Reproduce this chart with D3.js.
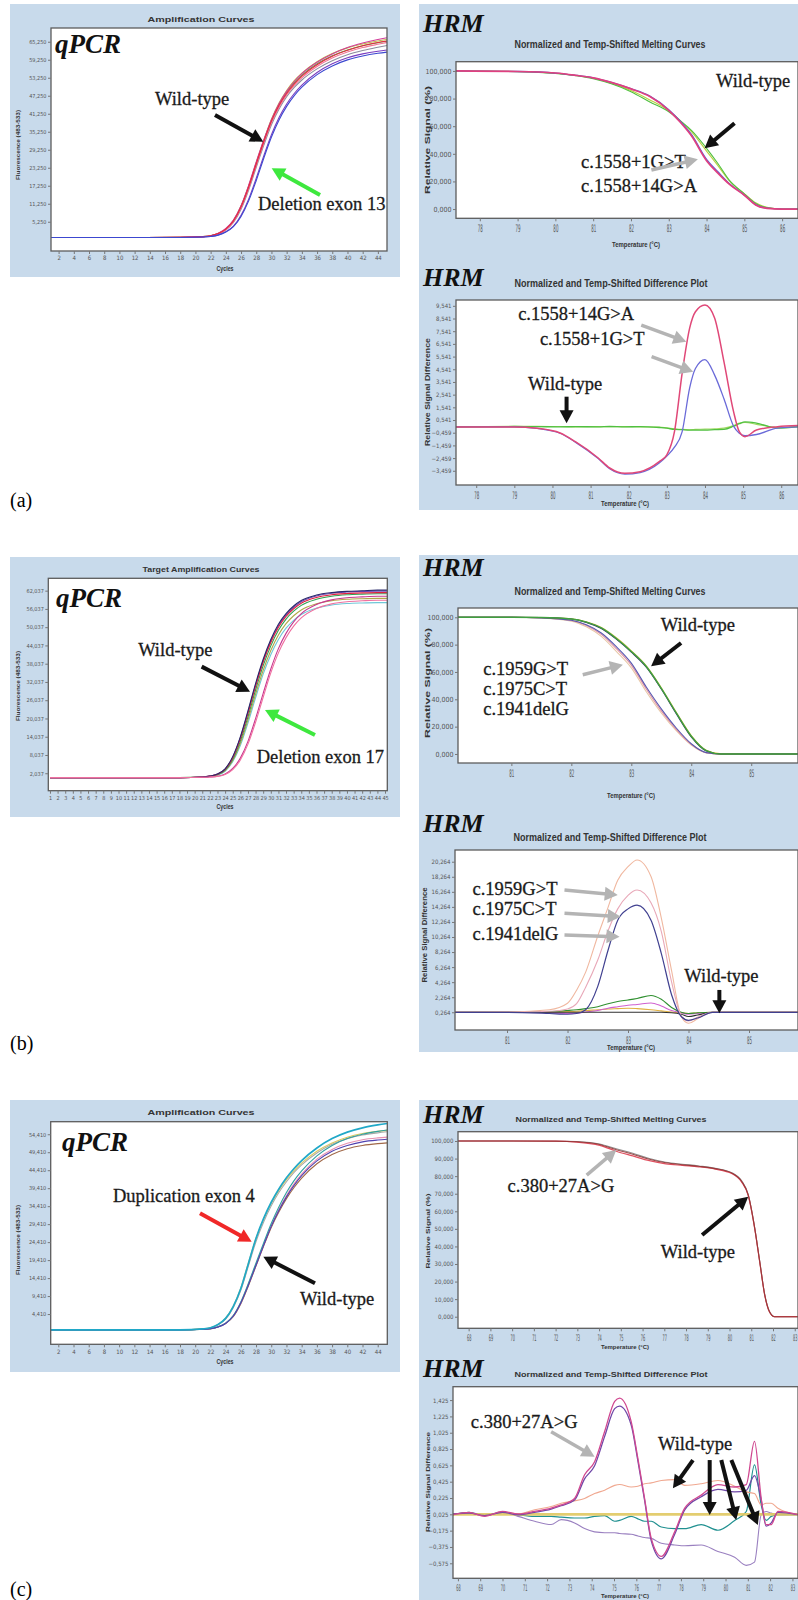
<!DOCTYPE html>
<html>
<head>
<meta charset="utf-8">
<script src="https://cdnjs.cloudflare.com/ajax/libs/d3/7.8.5/d3.min.js"></script>
<style>
body { margin: 0; background: #fff; }
.note { font-family: "Liberation Serif", "Times New Roman", serif; font-size: 18.5px; fill: #1a1a1a; stroke: #1a1a1a; stroke-width: 0.3px; }
.big { font-family: "Liberation Serif", "Times New Roman", serif; font-style: italic; font-weight: bold; fill: #111; }
.ttl { font-family: "Liberation Sans", Arial, sans-serif; font-weight: bold; fill: #333; }
</style>
</head>
<body>
<svg id="fig" width="798" height="1600"></svg>
<script>

/////// qPCR (a) : amplification curves, values in thousands ///////

var qa_cycles = [1, 10, 18, 21, 22, 23, 24, 25, 26, 27, 28, 29, 30, 31, 32, 33, 34, 36, 38, 40, 42, 44, 45.2];
var qa_wt1 = [0, 0, 0.05, 0.3, 0.6, 1.3, 2.8, 5.5, 10.2, 16.8, 24.5, 32, 38.8, 44, 48, 51.2, 53.8, 57.6, 60.4, 62.4, 63.9, 65, 65.5];
var qa_wt2 = [0, 0, 0.05, 0.3, 0.6, 1.4, 3.0, 5.8, 10.6, 17.4, 25.2, 32.6, 39.3, 44.6, 48.7, 52, 54.6, 58.4, 61.2, 63.3, 64.8, 66, 66.6];
var qa_wt3 = [0, 0, 0.05, 0.3, 0.6, 1.3, 2.9, 5.7, 10.5, 17.2, 25, 32.5, 39.4, 44.8, 49, 52.3, 54.8, 58.6, 61.3, 63.2, 64.5, 65.5, 66];
var qa_wt4 = [0, 0, 0.05, 0.3, 0.5, 1.2, 2.6, 5.2, 9.8, 16.3, 24, 31.5, 38.2, 43.4, 47.5, 50.7, 53.2, 57, 59.8, 61.8, 63.3, 64.4, 65];
var qa_wt5 = [0, 0, 0.05, 0.25, 0.5, 1.1, 2.5, 5, 9.4, 15.8, 23.4, 30.8, 37.6, 42.8, 46.9, 50, 52.5, 56.2, 58.9, 60.9, 62.3, 63.4, 64];
var qa_wt6 = [0, 0, 0.05, 0.3, 0.6, 1.3, 2.8, 5.6, 10.4, 17, 24.8, 32.3, 39, 44.3, 48.4, 51.6, 54.1, 57.9, 60.6, 62.5, 63.9, 64.9, 65.4];
var qa_del1 = [0, 0, 0, 0.15, 0.35, 0.8, 1.8, 3.6, 7, 12.2, 19, 26.5, 33.5, 39.2, 43.7, 47.3, 50.1, 54.3, 57.2, 59.2, 60.5, 61.4, 61.8];
var qa_del2 = [0, 0, 0, 0.15, 0.35, 0.8, 1.9, 3.8, 7.4, 12.8, 19.8, 27.3, 34.3, 40, 44.5, 48, 50.8, 55, 57.9, 59.9, 61.2, 62.1, 62.5];
var qa_yticks = [5.25, 11.25, 17.25, 23.25, 29.25, 35.25, 41.25, 47.25, 53.25, 59.25, 65.25];
var qa_xticks = d3.range(2, 45, 2);

/////// qPCR (b) ///////

var qb_cycles = [1, 10, 18, 21, 22, 23, 24, 25, 26, 27, 28, 29, 30, 31, 32, 33, 34, 36, 38, 40, 42, 44, 45.3];
var qb_wt1 = [0.6, 0.6, 0.6, 0.8, 1.1, 1.8, 3.5, 7.5, 14, 22.5, 31.5, 39.5, 46, 51, 54.5, 57, 58.8, 60.6, 61.4, 61.8, 62, 62.2, 62.2];
var qb_wt2 = [0.6, 0.6, 0.6, 0.8, 1.1, 1.7, 3.3, 7.1, 13.4, 21.7, 30.6, 38.6, 45, 50, 53.6, 56.1, 57.9, 59.8, 60.7, 61.1, 61.3, 61.4, 61.4];
var qb_wt3 = [0.6, 0.6, 0.6, 0.8, 1.0, 1.6, 3.1, 6.6, 12.6, 20.6, 29.4, 37.4, 43.9, 49, 52.7, 55.3, 57.2, 59.2, 60.2, 60.7, 60.9, 61, 61];
var qb_wt4 = [0.6, 0.6, 0.6, 0.8, 1.1, 1.8, 3.4, 7.3, 13.7, 22.1, 31, 39, 45.5, 50.5, 54.1, 56.6, 58.4, 60.3, 61.2, 61.6, 61.8, 61.9, 61.9];
var qb_wt5 = [0.6, 0.6, 0.6, 0.75, 1.0, 1.5, 2.9, 6.2, 11.8, 19.5, 28, 35.9, 42.4, 47.5, 51.2, 53.8, 55.7, 57.7, 58.7, 59.2, 59.4, 59.5, 59.5];
var qb_wt6 = [0.6, 0.6, 0.6, 0.75, 0.95, 1.4, 2.7, 5.8, 11.1, 18.5, 26.8, 34.6, 41, 46, 49.7, 52.3, 54.2, 56.3, 57.3, 57.8, 58, 58.1, 58.1];
var qb_del1 = [0.6, 0.6, 0.6, 0.7, 0.8, 1.0, 1.6, 3.2, 6.4, 11.6, 18.8, 27, 35, 41.6, 46.6, 50.4, 53.1, 56.2, 57.7, 58.4, 58.7, 58.9, 58.9];
var qb_del2 = [0.6, 0.6, 0.6, 0.7, 0.8, 1.05, 1.8, 3.6, 7, 12.5, 20, 28.3, 36.3, 43, 48, 51.8, 54.5, 57.5, 59, 59.7, 60, 60.2, 60.2];
var qb_yticks = [2.037, 8.037, 14.037, 20.037, 26.037, 32.037, 38.037, 44.037, 50.037, 56.037, 62.037];
var qb_xticks = d3.range(1, 46, 1);

/////// qPCR (c) ///////

var qc_cycles = [1, 10, 18, 21, 22, 23, 24, 25, 26, 27, 28, 29, 30, 31, 32, 33, 34, 36, 38, 40, 42, 44, 45.26];
var qc_dup1 = [0, 0, 0, 0.3, 0.6, 1.5, 3.2, 6.5, 11.5, 18.5, 25.5, 31, 35.5, 39.2, 42.3, 44.9, 47.1, 50.6, 53.2, 55, 56.2, 57, 57.4];
var qc_dup2 = [0, 0, 0, 0.3, 0.6, 1.5, 3.3, 6.6, 11.7, 18.7, 25.5, 30.8, 35.2, 38.8, 41.8, 44.3, 46.4, 49.7, 52, 53.6, 54.6, 55.2, 55.5];
var qc_dup3 = [0, 0, 0, 0.3, 0.55, 1.4, 3.0, 6.2, 11, 17.8, 24.6, 30, 34.5, 38.2, 41.2, 43.8, 45.9, 49.2, 51.6, 53.2, 54.2, 54.8, 55.1];
var qc_wt1 = [0, 0, 0, 0.2, 0.35, 0.8, 1.8, 3.8, 7.5, 12.5, 18, 23.5, 28.8, 33.2, 37, 40.2, 42.9, 47, 49.7, 51.3, 52.3, 52.8, 53];
var qc_wt2 = [0, 0, 0, 0.2, 0.35, 0.85, 1.9, 4, 7.8, 13, 18.6, 24.2, 29.6, 34.2, 38.2, 41.5, 44.2, 48.4, 51.3, 53.2, 54.4, 55.2, 55.6];
var qc_wt3 = [0, 0, 0, 0.2, 0.3, 0.8, 1.8, 3.7, 7.3, 12.3, 17.8, 23.3, 28.5, 32.8, 36.5, 39.6, 42.2, 46.2, 48.8, 50.4, 51.3, 51.8, 52];
var qc_wt4 = [0, 0, 0, 0.2, 0.35, 0.85, 1.9, 3.9, 7.7, 12.8, 18.3, 23.8, 29, 33.5, 37.4, 40.6, 43.3, 47.5, 50.2, 51.9, 52.9, 53.4, 53.6];
var qc_yticks = [4.41, 9.41, 14.41, 19.41, 24.41, 29.41, 34.41, 39.41, 44.41, 49.41, 54.41];
var qc_xticks = d3.range(2, 45, 2);

/////// HRM (a) melting curves and difference plot ///////

var ma_temp = [77.37, 79, 80, 80.5, 81, 81.5, 82, 82.5, 83, 83.3, 83.6, 84, 84.3, 84.6, 85, 85.3, 85.6, 86, 86.42];
var ma_pink = [100, 99.6, 98.5, 97, 95, 91.5, 87, 81.5, 71.5, 63, 53, 35, 26, 18, 10, 3, 0.5, 0, 0];
var ma_blue = [100, 99.6, 98.5, 97, 95, 91.6, 87.2, 81.8, 72, 63.8, 54, 36, 27, 18.5, 10.2, 3.2, 0.6, 0, 0];
var ma_green = [100, 99.5, 98.2, 96.7, 94.4, 90.5, 85, 77.5, 70.5, 64, 57, 44, 33, 21, 11, 4, 1, 0, 0];
var ma_lime = [100, 99.6, 98.3, 96.9, 94.7, 91, 85.8, 79, 71.2, 64.2, 56, 42, 31.5, 20.5, 11.2, 4.5, 1.2, 0, 0];
var ma_yticks = [0, 20, 40, 60, 80, 100];
var ma_xticks = d3.range(78, 87);

var da_temp = [77.47, 79, 79.6, 80.2, 80.6, 81.2, 81.5, 81.9, 82.3, 82.8, 83, 83.2, 83.4, 83.6, 83.75, 84, 84.25, 84.5, 84.75, 84.9, 85.05, 85.35, 85.9, 86.44];
var da_pink = [0, 0, -0.11, -0.48, -1.17, -2.45, -3.24, -3.66, -3.53, -2.74, -2.2, -0.38, 4.2, 7.8, 9.07, 9.6, 8.6, 5.1, 1.2, -0.38, -0.77, -0.25, 0.01, 0.1];
var da_blue = [0, 0, -0.12, -0.5, -1.2, -2.5, -3.3, -3.72, -3.6, -2.85, -2.3, -1.6, -0.4, 3.1, 4.6, 5.3, 4.1, 2.2, 0.06, -0.5, -0.7, -0.6, -0.1, 0];
var da_green = [0, 0.03, 0.02, 0, 0.02, 0, 0.03, 0, 0.02, -0.05, -0.1, -0.2, -0.22, -0.25, -0.25, -0.25, -0.22, -0.2, 0.05, 0.25, 0.4, 0.3, -0.1, 0];
var da_lime = [0, 0.05, 0.04, 0.03, 0, 0.02, 0.01, 0.02, 0, -0.02, -0.08, -0.15, -0.2, -0.22, -0.2, -0.18, -0.15, -0.1, 0.1, 0.3, 0.35, 0.2, -0.05, 0.05];
var da_yticks = [-3.459, -2.459, -1.459, -0.459, 0.541, 1.541, 2.541, 3.541, 4.541, 5.541, 6.541, 7.541, 8.541, 9.541];

/////// HRM (b) ///////

var mb_temp = [80.11, 81, 81.5, 82, 82.25, 82.5, 82.75, 83, 83.25, 83.5, 83.75, 84, 84.25, 84.5, 85, 85.78];
var mb_green = [100, 100, 99.8, 98.8, 96.5, 92.2, 84.5, 75, 64, 48, 30, 13, 2.5, 0, 0, 0];
var mb_navy = [100, 100, 99.8, 98.7, 96.3, 91.8, 84, 74.5, 63.5, 47.5, 29.5, 12.5, 2.2, 0, 0, 0];
var mb_yellow = [100, 100, 99.8, 98.9, 96.7, 92.5, 85, 75.5, 64.5, 48.5, 30.5, 13.5, 2.8, 0.1, 0, 0];
var mb_blue = [100, 100, 99.6, 97.8, 94.5, 88.5, 78.5, 66.5, 49, 33, 19, 7.5, 1, 0, 0, 0];
var mb_pink = [100, 100, 99.5, 97.6, 94, 87.5, 77, 65, 47.5, 31.5, 18, 7, 0.9, 0, 0, 0];
var mb_beige = [100, 100, 99.4, 97.2, 93, 86, 75, 63, 45.5, 30, 17, 6.5, 0.8, 0, 0, 0];
var mb_yticks = [0, 20, 40, 60, 80, 100];
var mb_xticks = [81, 82, 83, 84, 85];

var db_temp = [80.14, 81, 81.7, 82, 82.15, 82.3, 82.5, 82.67, 82.83, 83, 83.15, 83.38, 83.55, 83.72, 83.88, 84, 84.15, 84.4, 85, 85.81];
var db_salmon = [0.26, 0.3, 0.6, 1.46, 3.2, 5.6, 10.4, 14.2, 17.8, 19.6, 20.5, 18.3, 12.8, 5.8, -0.3, -1.2, -0.6, 0.26, 0.26, 0.26];
var db_pink = [0.26, 0.26, 0.4, 0.7, 1.4, 3.6, 7.2, 11.1, 14, 15.8, 16.5, 14.8, 11, 4.3, -0.2, -0.9, -0.4, 0.26, 0.26, 0.26];
var db_blue = [0.26, 0.26, 0.1, 0, 0.1, 0.6, 3.7, 8.5, 12.5, 14, 14.5, 12.5, 8.1, 2.6, -0.3, -0.8, -0.5, 0.26, 0.26, 0.26];
var db_green = [0.26, 0.26, 0.35, 0.5, 0.6, 0.75, 1.0, 1.4, 1.7, 1.9, 2.1, 2.5, 2.0, 0.9, 0.26, 0.1, 0.2, 0.26, 0.26, 0.26];
var db_magenta = [0.26, 0.26, 0.2, 0.1, 0.15, 0.3, 0.5, 0.8, 1.0, 1.2, 1.3, 1.5, 1.1, 0.5, 0.2, 0, 0.1, 0.26, 0.26, 0.26];
var db_yellow = [0.26, 0.26, 0.3, 0.35, 0.4, 0.5, 0.6, 0.7, 0.75, 0.8, 0.75, 0.6, 0.45, 0.3, 0.2, 0.1, 0.2, 0.26, 0.26, 0.26];
var db_dark = [0.26, 0.26, 0.26, 0.26, 0.26, 0.26, 0.26, 0.26, 0.26, 0.26, 0.26, 0.26, 0.26, 0.2, 0, -0.3, -0.1, 0.26, 0.26, 0.26];
var db_yticks = [0.264, 2.264, 4.264, 6.264, 8.264, 10.264, 12.264, 14.264, 16.264, 18.264, 20.264];

/////// HRM (c) ///////

var mc_temp = [67.51, 70, 72, 72.97, 74.03, 74.79, 75.55, 76.31, 77.07, 77.83, 78.58, 79.34, 80.1, 80.56, 80.86, 81.16, 81.39, 81.62, 81.84, 82.07, 83.15];
var mc_dark = [100, 100, 99.9, 99.6, 98, 95, 92.5, 89.6, 87.6, 86.5, 85.6, 84.3, 81.8, 77, 69.3, 50.3, 31.3, 12.4, 2.8, 0, 0];
var mc_pink = [100, 100, 99.9, 99.4, 97.5, 94.2, 91.5, 88.8, 87, 86.1, 85.3, 84, 81.5, 76.6, 69, 50, 31, 12.2, 2.7, 0, 0];
var mc_gray = [100, 100, 100, 99.7, 98.3, 95.6, 93, 90, 87.9, 86.8, 85.8, 84.5, 82, 77.3, 69.6, 50.6, 31.6, 12.6, 2.9, 0, 0];
var mc_yticks = [0, 10, 20, 30, 40, 50, 60, 70, 80, 90, 100];
var mc_xticks = d3.range(68, 84);

var dc_temp = [67.78, 68.5, 69.2, 70, 70.7, 71.44, 72.18, 72.63, 73.23, 73.68, 74.13, 74.58, 75.03, 75.25, 75.77, 76.07, 76.37, 76.67, 77.12, 77.72, 78.17, 78.91, 79.66, 80.41, 80.93, 81.3, 81.6, 81.82, 82.05, 82.35, 83.24];
var dc_pink = [0.02, 0.05, 0.0, 0.06, 0.03, 0.06, 0.1, 0.14, 0.22, 0.51, 0.67, 1.04, 1.41, 1.45, 1.16, 0.71, 0.22, -0.27, -0.49, -0.19, 0.1, 0.26, 0.39, 0.36, 0.39, 0.92, 0.22, -0.1, -0.1, 0.06, 0.02];
var dc_purple = [0.03, 0.04, 0.01, 0.05, 0.02, 0.05, 0.09, 0.13, 0.2, 0.46, 0.62, 0.98, 1.32, 1.35, 1.12, 0.68, 0.2, -0.3, -0.52, -0.22, 0.08, 0.24, 0.33, 0.3, 0.32, 0.5, 0.2, -0.12, -0.08, 0.05, 0.02];
var dc_salmon = [0.02, 0.04, 0.01, 0.05, 0.03, 0.08, 0.12, 0.16, 0.19, 0.22, 0.28, 0.32, 0.38, 0.39, 0.36, 0.37, 0.4, 0.41, 0.44, 0.45, 0.38, 0.4, 0.44, 0.37, 0.3, 0.28, 0.14, 0.16, 0.16, 0.1, 0.02];
var dc_teal = [0.02, 0.05, 0.01, 0.05, 0.02, 0.0, 0.0, -0.01, -0.02, -0.02, 0.0, 0.01, -0.06, -0.05, 0.0, -0.03, -0.06, -0.06, -0.13, -0.15, -0.15, -0.1, -0.17, -0.05, 0.06, 0.63, 0.14, -0.05, 0.0, 0.02, 0.02];
var dc_lav = [0.02, 0.04, 0.02, 0.05, 0.0, -0.06, -0.1, -0.04, -0.08, -0.15, -0.19, -0.2, -0.2, -0.21, -0.22, -0.24, -0.26, -0.27, -0.33, -0.35, -0.36, -0.35, -0.43, -0.5, -0.6, -0.56, 0.02, 0.06, 0.04, 0.02, 0.02];
var dc_ref_temp = [67.78, 83.47];
var dc_ref = [0.025, 0.025];
var dc_yticks = [-0.575, -0.375, -0.175, 0.025, 0.225, 0.425, 0.625, 0.825, 1.025, 1.225, 1.425];


/////// Helpers ///////

var svg = d3.select("#fig");
var NARROW = "'Liberation Sans Narrow', 'DejaVu Sans Condensed', 'Arial Narrow', sans-serif";
var BLUE_BG = "#c8daeb";
var GREY_ARROW = "#b4b4b4";
var clipN = 0;

function fmt3(d) { return d3.format(".3f")(d).replace(".", ","); }

function box(x, y, w, h) {
    svg.append("rect").attr("x", x).attr("y", y).attr("width", w).attr("height", h).attr("fill", BLUE_BG);
}

function txt(x, y, s, cls, size, len, rot) {
    var t = svg.append("text").attr("class", cls).attr("font-size", size).text(s);
    if (rot) {
        t.attr("transform", "translate(" + x + "," + y + ") rotate(-90)").attr("text-anchor", "middle");
    } else {
        t.attr("x", x).attr("y", y);
        if (len) t.attr("text-anchor", "middle");
    }
    if (len) t.attr("textLength", len).attr("lengthAdjust", "spacingAndGlyphs");
    return t;
}

function arrow(x1, y1, x2, y2, col, w) {
    var dx = x2 - x1, dy = y2 - y1, len = Math.sqrt(dx * dx + dy * dy);
    var ux = dx / len, uy = dy / len, hl = 13, hw = 7;
    var bx = x2 - ux * hl, by = y2 - uy * hl;
    svg.append("line").attr("x1", x1).attr("y1", y1).attr("x2", bx + ux * 2).attr("y2", by + uy * 2)
        .attr("stroke", col).attr("stroke-width", w || 4);
    svg.append("path")
        .attr("d", "M" + x2 + "," + y2 + "L" + (bx - uy * hw) + "," + (by + ux * hw) + "L" + (bx + uy * hw) + "," + (by - ux * hw) + "Z")
        .attr("fill", col);
}

function plot(p) {
    var x = d3.scaleLinear().domain(p.xdom).range([p.l, p.r]);
    var y = d3.scaleLinear().domain(p.ydom).range([p.b, p.t]);
    var id = "clip" + (clipN++);

    svg.append("clipPath").attr("id", id).append("rect")
        .attr("x", p.l).attr("y", p.t).attr("width", p.r - p.l).attr("height", p.b - p.t);
    svg.append("rect").attr("x", p.l).attr("y", p.t).attr("width", p.r - p.l).attr("height", p.b - p.t)
        .attr("fill", "#fff");

    var line = d3.line().curve(d3.curveMonotoneX)
        .x(function (d) { return x(d[0]); })
        .y(function (d) { return y(d[1]); });

    var lines = svg.append("g").attr("clip-path", "url(#" + id + ")");
    p.series.forEach(function (s) {
        lines.append("path")
            .datum(d3.zip(s.xs || p.xs, s.ys))
            .attr("d", line)
            .attr("fill", "none")
            .attr("stroke", s.c)
            .attr("stroke-width", s.w || 1.1)
            .attr("stroke-opacity", s.o || 1);
    });

    svg.append("rect").attr("x", p.l).attr("y", p.t).attr("width", p.r - p.l).attr("height", p.b - p.t)
        .attr("fill", "none").attr("stroke", "#5c5c5c").attr("stroke-width", 1.3);

    // axes
    var ya = svg.append("g").attr("transform", "translate(" + p.l + ",0)")
        .call(d3.axisLeft(y).tickValues(p.yticks).tickFormat(fmt3).tickSize(3).tickPadding(1.5));
    ya.select(".domain").remove();
    ya.selectAll("line").attr("stroke", "#777");
    ya.selectAll("text").attr("font-size", p.yfs).attr("font-family", NARROW).attr("fill", "#555");

    var xa = svg.append("g").attr("transform", "translate(0," + p.b + ")")
        .call(d3.axisBottom(x).tickValues(p.xticks).tickFormat(d3.format("d")).tickSize(3).tickPadding(2));
    xa.select(".domain").remove();
    xa.selectAll("line").attr("stroke", "#777");
    xa.selectAll("text").attr("font-size", p.xfs).attr("font-family", NARROW).attr("fill", "#555");
    if (p.squeeze) xa.selectAll("text").attr("transform", "scale(0.55,1.3)");

    // annotations
    (p.notes || []).forEach(function (n) {
        svg.append("text").attr("class", "note").attr("x", x(n[0])).attr("y", y(n[1])).text(n[2]);
    });
    (p.arrows || []).forEach(function (a) {
        arrow(x(a[0]), y(a[1]), x(a[2]), y(a[3]), a[4], a[5]);
    });
}


/////// Backgrounds ///////

box(10, 4, 390, 273);
box(10, 557, 390, 260);
box(10, 1100, 390, 272);
box(419, 4, 379, 506);
box(419, 555, 379, 497);
box(419, 1100, 379, 500);


/////// qPCR panels ///////

plot({
    l: 51, r: 387, t: 28, b: 251, xdom: [1, 45.2], ydom: [-4.5, 69.83],
    xs: qa_cycles, yticks: qa_yticks, xticks: qa_xticks, yfs: 5.5, xfs: 6,
    series: [
        {ys: qa_wt5, c: "#8c8c9c"}, {ys: qa_wt3, c: "#c0b848"}, {ys: qa_wt6, c: "#58b058"},
        {ys: qa_wt4, c: "#f07898"}, {ys: qa_wt2, c: "#d23c9a"}, {ys: qa_wt1, c: "#e8283c"},
        {ys: qa_del2, c: "#7a3cc0"}, {ys: qa_del1, c: "#3c48d0"}
    ],
    notes: [[14.68, 44.17, "Wild-type"], [28.23, 9.17, "Deletion exon 13"]],
    arrows: [[22.57, 40.83, 28.93, 31.93, "#111"], [36.39, 14.17, 30.03, 23.07, "#3ee83e"]]
});
txt(201, 22, "Amplification Curves", "ttl", 8, 107);
txt(225, 270.5, "Cycles", "ttl", 6.5, 17);
txt(20, 145, "Fluorescence (483-533)", "ttl", 5.5, 70, true);
txt(55, 53, "qPCR", "big", 27);

plot({
    l: 48.3, r: 387.3, t: 578.3, b: 790.7, xdom: [0.78, 45.3], ydom: [-3.7, 66.1],
    xs: qb_cycles, yticks: qb_yticks, xticks: qb_xticks, yfs: 5.5, xfs: 5.5,
    series: [
        {ys: qb_wt6, c: "#70c8d8"}, {ys: qb_wt5, c: "#b0a848"}, {ys: qb_wt3, c: "#30a050"},
        {ys: qb_wt4, c: "#7048b8"}, {ys: qb_wt2, c: "#e02040"}, {ys: qb_wt1, c: "#2a2a6a"},
        {ys: qb_del2, c: "#c83890"}, {ys: qb_del1, c: "#f070a0"}
    ],
    notes: [[12.58, 40.58, "Wild-type"], [28.15, 5.32, "Deletion exon 17"]],
    arrows: [[20.92, 37.07, 27.27, 28.85, "#111"], [35.8, 14.62, 29.24, 22.84, "#3ee83e"]]
});
txt(201, 572, "Target Amplification Curves", "ttl", 8, 117);
txt(225, 809, "Cycles", "ttl", 6.5, 17);
txt(20, 686, "Fluorescence (483-533)", "ttl", 5.5, 70, true);
txt(56, 607, "qPCR", "big", 27);

plot({
    l: 50.7, r: 387.3, t: 1121.7, b: 1344.3, xdom: [1, 45.26], ydom: [-4.0, 57.9],
    xs: qc_cycles, yticks: qc_yticks, xticks: qc_xticks, yfs: 5.5, xfs: 6,
    series: [
        {ys: qc_wt3, c: "#a06848"}, {ys: qc_wt4, c: "#e890b0"}, {ys: qc_dup3, c: "#a8a8a8"},
        {ys: qc_dup2, c: "#d8c860"}, {ys: qc_wt2, c: "#30a0a0"}, {ys: qc_wt1, c: "#5040b0"},
        {ys: qc_dup1, c: "#20a8c8", w: 1.7}
    ],
    notes: [[9.19, 35.66, "Duplication exon 4"], [33.78, 6.91, "Wild-type"]],
    arrows: [[20.63, 32.43, 27.43, 24.53, "#f02828"], [35.75, 12.95, 28.96, 20.35, "#111"]]
});
txt(201, 1114.5, "Amplification Curves", "ttl", 8, 107);
txt(225, 1363.5, "Cycles", "ttl", 6.5, 17);
txt(20, 1240, "Fluorescence (483-533)", "ttl", 5.5, 70, true);
txt(62, 1151, "qPCR", "big", 27);


/////// HRM (a) ///////

plot({
    l: 456, r: 798, t: 61.7, b: 218.3, xdom: [77.37, 86.42], ydom: [-6.7, 106.7],
    xs: ma_temp, yticks: ma_yticks, xticks: ma_xticks, yfs: 7, xfs: 8, squeeze: true,
    series: [
        {ys: ma_lime, c: "#b8d040"}, {ys: ma_green, c: "#50c040"},
        {ys: ma_blue, c: "#6060d0", w: 1.3}, {ys: ma_pink, c: "#e04080", w: 1.7}
    ],
    notes: [[84.25, 88.6, "Wild-type"], [80.68, 29.5, "c.1558+1G>T"], [80.68, 12.5, "c.1558+14G>A"]],
    arrows: [[84.74, 62.1, 83.95, 44.0, "#111"], [82.54, 28.3, 83.77, 36.0, GREY_ARROW, 3.5]]
});
txt(423, 31.7, "HRM", "big", 26);
txt(610, 48.3, "Normalized and Temp-Shifted Melting Curves", "ttl", 10, 191);
txt(636, 247, "Temperature (°C)", "ttl", 6.5, 48);
txt(430, 140, "Relative Signal (%)", "ttl", 7.5, 108, true);

plot({
    l: 456, r: 798, t: 300, b: 485, xdom: [77.47, 86.44], ydom: [-4.58, 10.0],
    xs: da_temp, yticks: da_yticks, xticks: ma_xticks, yfs: 6, xfs: 8, squeeze: true,
    series: [
        {ys: da_lime, c: "#a0d860"}, {ys: da_green, c: "#50c040", w: 1.3},
        {ys: da_blue, c: "#6a6ad8", w: 1.3}, {ys: da_pink, c: "#e04878", w: 1.5}
    ],
    notes: [[79.1, 8.42, "c.1558+14G>A"], [79.67, 6.45, "c.1558+1G>T"], [79.36, 2.9, "Wild-type"]],
    arrows: [[82.33, 8.02, 83.51, 6.71, GREY_ARROW, 3.5], [82.6, 5.53, 83.69, 4.34, GREY_ARROW, 3.5],
             [80.37, 2.38, 80.37, 0.28, "#111"]]
});
txt(423, 285.7, "HRM", "big", 26);
txt(611, 286.7, "Normalized and Temp-Shifted Difference Plot", "ttl", 10, 193);
txt(625, 506, "Temperature (°C)", "ttl", 6.5, 48);
txt(430, 392, "Relative Signal Difference", "ttl", 6.5, 108, true);


/////// HRM (b) ///////

plot({
    l: 458, r: 798, t: 608, b: 763, xdom: [80.11, 85.78], ydom: [-6.6, 106.8],
    xs: mb_temp, yticks: mb_yticks, xticks: mb_xticks, yfs: 7, xfs: 8, squeeze: true,
    series: [
        {ys: mb_beige, c: "#e8c8a8"}, {ys: mb_pink, c: "#e090a0"}, {ys: mb_blue, c: "#5858b0"},
        {ys: mb_yellow, c: "#d0c040"}, {ys: mb_navy, c: "#303060"}, {ys: mb_green, c: "#40a040", w: 1.4}
    ],
    notes: [[83.49, 89.8, "Wild-type"], [80.53, 58.0, "c.1959G>T"], [80.53, 43.4, "c.1975C>T"], [80.53, 28.7, "c.1941delG"]],
    arrows: [[83.83, 81.2, 83.33, 64.2, "#111"], [82.19, 58.0, 82.86, 65.3, GREY_ARROW, 3.5]]
});
txt(423, 576.3, "HRM", "big", 26);
txt(610, 594.7, "Normalized and Temp-Shifted Melting Curves", "ttl", 10, 191);
txt(631, 798, "Temperature (°C)", "ttl", 6.5, 48);
txt(430, 683, "Relative Signal (%)", "ttl", 7.5, 110, true);

plot({
    l: 455, r: 798, t: 850, b: 1030, xdom: [80.14, 85.81], ydom: [-2.09, 21.82],
    xs: db_temp, yticks: db_yticks, xticks: mb_xticks, yfs: 6, xfs: 8, squeeze: true,
    series: [
        {ys: db_yellow, c: "#e0b040"}, {ys: db_magenta, c: "#d060d0"}, {ys: db_green, c: "#309030"},
        {ys: db_dark, c: "#303030"}, {ys: db_salmon, c: "#f0b8a0"}, {ys: db_pink, c: "#e8a8b8"},
        {ys: db_blue, c: "#404090", w: 1.2}
    ],
    notes: [[80.43, 15.84, "c.1959G>T"], [80.43, 13.18, "c.1975C>T"], [80.43, 9.86, "c.1941delG"], [83.93, 4.33, "Wild-type"]],
    arrows: [[81.95, 16.5, 82.83, 15.84, GREY_ARROW, 3.5], [81.95, 13.41, 82.88, 12.96, GREY_ARROW, 3.5],
             [81.95, 10.53, 82.86, 10.3, GREY_ARROW, 3.5], [84.51, 3.23, 84.51, 0.13, "#111"]]
});
txt(423, 831.7, "HRM", "big", 26);
txt(610, 841, "Normalized and Temp-Shifted Difference Plot", "ttl", 10, 193);
txt(631, 1050, "Temperature (°C)", "ttl", 6.5, 48);
txt(427, 935, "Relative Signal Difference", "ttl", 6.5, 95, true);


/////// HRM (c) ///////

plot({
    l: 458, r: 798, t: 1131.7, b: 1328.3, xdom: [67.51, 83.15], ydom: [-6.6, 105.3],
    xs: mc_temp, yticks: mc_yticks, xticks: mc_xticks, yfs: 6, xfs: 7, squeeze: true,
    series: [
        {ys: mc_gray, c: "#909090"}, {ys: mc_pink, c: "#e05060", w: 1.2}, {ys: mc_dark, c: "#903030", w: 1.1, o: 0.85}
    ],
    notes: [[69.79, 71.1, "c.380+27A>G"], [76.84, 33.2, "Wild-type"]],
    arrows: [[73.43, 80.6, 74.79, 94.9, GREY_ARROW, 3.5], [78.74, 46.5, 80.86, 68.3, "#111"]]
});
txt(423, 1123.3, "HRM", "big", 26);
txt(611, 1122.3, "Normalized and Temp-Shifted Melting Curves", "ttl", 8, 191);
txt(625, 1349, "Temperature (°C)", "ttl", 6, 48);
txt(430, 1231, "Relative Signal (%)", "ttl", 5.5, 75, true);

plot({
    l: 453, r: 798, t: 1386.7, b: 1578.3, xdom: [67.78, 83.25], ydom: [-0.759, 1.589],
    xs: dc_temp, yticks: dc_yticks, xticks: mc_xticks, yfs: 6, xfs: 7, squeeze: true,
    series: [
        {ys: dc_lav, c: "#9a80c0"}, {ys: dc_teal, c: "#209090", w: 1.2}, {ys: dc_salmon, c: "#f0a890"},
        {xs: dc_ref_temp, ys: dc_ref, c: "#e0c860", w: 2.6, o: 0.9},
        {ys: dc_purple, c: "#7048a8", w: 1.3}, {ys: dc_pink, c: "#d04890", w: 1.3}
    ],
    notes: [[68.58, 1.079, "c.380+27A>G"], [76.97, 0.813, "Wild-type"]],
    arrows: [[72.18, 1.037, 74.13, 0.731, GREY_ARROW, 3.5],
             [78.54, 0.69, 77.64, 0.344, "#111"], [79.29, 0.69, 79.29, 0.016, "#111"],
             [79.81, 0.69, 80.48, -0.045, "#111"], [80.26, 0.69, 81.45, -0.106, "#111"]]
});
txt(423, 1376.7, "HRM", "big", 26);
txt(611, 1377.3, "Normalized and Temp-Shifted Difference Plot", "ttl", 8, 193);
txt(625, 1598, "Temperature (°C)", "ttl", 6, 48);
txt(430, 1482, "Relative Signal Difference", "ttl", 5.5, 100, true);


/////// Row labels ///////

svg.append("text").attr("x", 10).attr("y", 507).attr("font-family", "Liberation Serif, serif").attr("font-size", 20).text("(a)");
svg.append("text").attr("x", 10).attr("y", 1050).attr("font-family", "Liberation Serif, serif").attr("font-size", 20).text("(b)");
svg.append("text").attr("x", 10).attr("y", 1596).attr("font-family", "Liberation Serif, serif").attr("font-size", 20).text("(c)");

</script>
</body>
</html>
